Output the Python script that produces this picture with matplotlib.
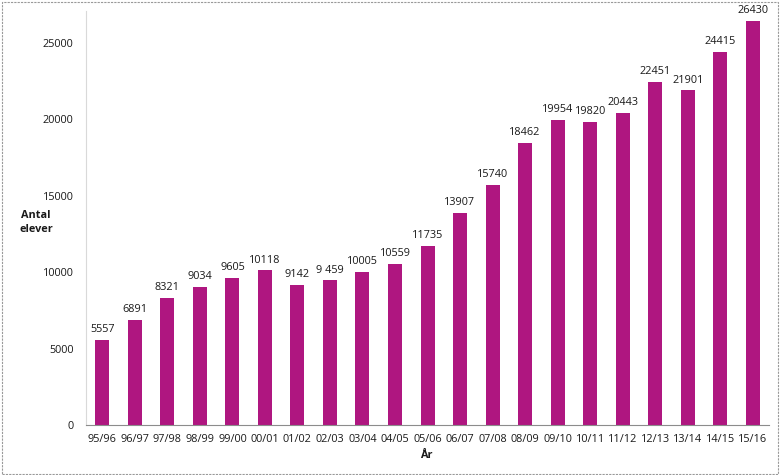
import matplotlib.pyplot as plt
from matplotlib.patches import Rectangle

plt.rcParams['font.family'] = ['Open Sans', 'DejaVu Sans']

years = ['95/96', '96/97', '97/98', '98/99', '99/00', '00/01', '01/02', '02/03',
         '03/04', '04/05', '05/06', '06/07', '07/08', '08/09', '09/10', '10/11',
         '11/12', '12/13', '13/14', '14/15', '15/16']
students = [5557, 6891, 8321, 9034, 9605, 10118, 9142, 9459, 10005, 10559, 11735,
            13907, 15740, 18462, 19954, 19820, 20443, 22451, 21901, 24415, 26430]
labels = ['5557', '6891', '8321', '9034', '9605', '10118', '9142', '9 459', '10005',
          '10559', '11735', '13907', '15740', '18462', '19954', '19820', '20443',
          '22451', '21901', '24415', '26430']
yticks = [0, 5000, 10000, 15000, 20000, 25000]

fig = plt.figure(figsize=(7.8, 4.75), dpi=100)
ax = fig.add_axes([0.1103, 0.1053, 0.8756, 0.8715])

x = range(len(years))
ax.bar(x, students, width=0.43, color='#AF1680')
for xi, v, lab in zip(x, students, labels):
    ax.annotate(lab, (xi, v), xytext=(0, 3.5), textcoords='offset points',
                ha='center', va='bottom', fontsize=7.8, color='#1a1a1a')

ax.set_xlim(-0.5, len(years) - 0.5)
ax.set_ylim(0, 27100)
ax.set_xticks(list(x))
ax.set_xticklabels(years, fontsize=7.8, color='#1a1a1a')
ax.set_yticks(yticks)
ax.set_yticklabels([str(t) for t in yticks], fontsize=7.8, color='#1a1a1a')
ax.tick_params(axis='both', length=0)
ax.tick_params(axis='y', pad=9)
ax.tick_params(axis='x', pad=6.5)

for side in ['top', 'right']:
    ax.spines[side].set_visible(False)
ax.spines['left'].set_color('#d9d9d9')
ax.spines['bottom'].set_color('#8c8c8c')

fig.text(0.046, 0.532, 'Antal\nelever', ha='center', va='center',
         fontsize=7.8, fontweight='bold', color='#1a1a1a', linespacing=1.4)
fig.text(0.547, 0.04, 'År', ha='center', va='center',
         fontsize=7.8, fontweight='bold', color='#1a1a1a')

# dashed frame round the whole chart
fig.patches.append(Rectangle((0.002, 0.003), 0.996, 0.993, transform=fig.transFigure,
                             fill=False, edgecolor='#999999', linestyle=(0, (2, 1)),
                             linewidth=0.8))

fig.savefig('out.png', dpi=100)
